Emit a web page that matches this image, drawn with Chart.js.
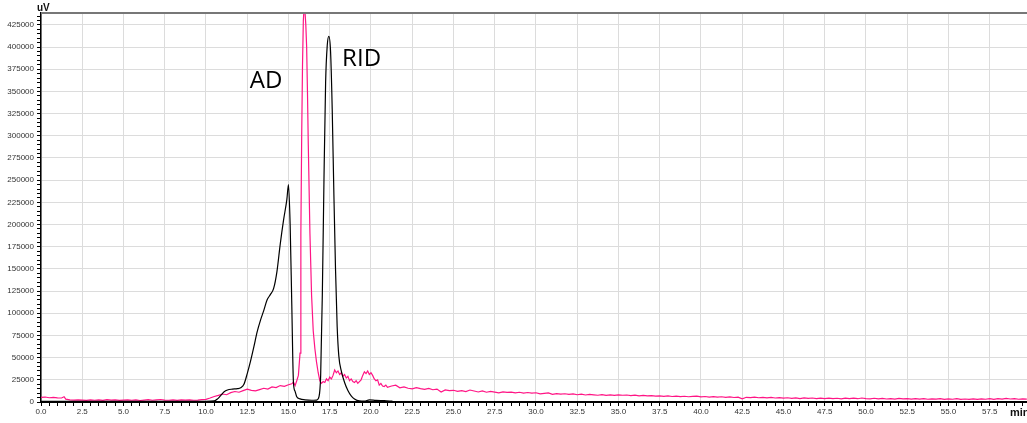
<!DOCTYPE html>
<html>
<head>
  <title>Chromatogram</title>
  <style>
    body { margin: 0; padding: 0; background: #fff; }
    .chart-box { width: 1027px; height: 423px; position: relative; }
  </style>
</head>
<body>

<div class="chart-box">
  <canvas id="chrom"></canvas>
</div>

<script src="https://cdn.jsdelivr.net/npm/chart.js"></script>
<script>
// black trace (minutes / uV)
const blackTime = [0, 2, 4, 6, 8, 10, 10.5, 10.7, 10.9, 11.1, 11.3, 11.6, 11.9, 12.1, 12.3, 12.5, 12.7, 12.9,
  13.1, 13.3, 13.5, 13.7, 13.9, 14.1, 14.3, 14.5, 14.7, 14.9, 15.0, 15.1, 15.2, 15.3, 15.4, 15.5, 15.7,
  16.0, 16.4, 16.7, 16.85, 16.95, 17.05, 17.15, 17.25, 17.35, 17.45, 17.55, 17.65, 17.75, 17.85, 17.95,
  18.05, 18.2, 18.4, 18.6, 18.8, 19.0, 19.3, 19.6, 19.9, 20.3, 20.8, 21.3];
const blackUv = [800, 700, 800, 700, 800, 800, 1200, 3500, 7500, 11500, 13500, 14500, 15000, 16000, 20000, 32000, 46000, 62000,
  79000, 92000, 103000, 115000, 121000, 128000, 147000, 178000, 205000, 228000, 245000, 200000, 110000, 22000, 12000, 6000, 3500,
  2500, 2000, 2200, 6000, 30000, 120000, 250000, 360000, 402000, 412000, 395000, 330000, 235000, 150000, 85000,
  52000, 35000, 22000, 13000, 7000, 3500, 1200, 900, 2500, 1800, 1500, 900];

// pink trace (minutes / uV)
const pinkTime = [0, 0.25, 0.5, 0.75, 1.0, 1.25, 1.4, 1.5, 1.75, 2.0, 2.25, 2.5, 2.75, 3.0, 3.25, 3.5, 3.75,
  4.0, 4.25, 4.5, 4.75, 5.0, 5.25, 5.5, 5.75, 6.0, 6.25, 6.5, 6.75, 7.0, 7.25, 7.5, 7.75, 8.0, 8.25, 8.5, 8.75,
  9.0, 9.25, 9.5, 9.75, 10.0, 10.25, 10.5, 10.75, 11.0, 11.25, 11.5, 11.75, 12.0, 12.25, 12.5, 12.75,
  13.0, 13.25, 13.5, 13.75, 14.0, 14.25, 14.5, 14.75, 15.0, 15.2, 15.3, 15.4, 15.5, 15.6, 15.7, 15.75,
  15.8, 15.85, 15.9, 15.95, 16.0, 16.05, 16.1, 16.15, 16.2, 16.3, 16.4, 16.5, 16.6, 16.7, 16.8, 16.9,
  17.0, 17.1, 17.2, 17.3, 17.4, 17.5, 17.6, 17.7, 17.8, 17.9, 18.0, 18.1, 18.2, 18.3, 18.4, 18.5, 18.6,
  18.7, 18.8, 18.9, 19.0, 19.1, 19.2, 19.3, 19.4, 19.5, 19.6, 19.7, 19.8, 19.9, 20.0, 20.1, 20.2, 20.3,
  20.4, 20.5, 20.6, 20.7, 20.8, 20.9,
  21.0, 21.25, 21.5, 21.75, 22.0, 22.25, 22.5, 22.75, 23.0, 23.25, 23.5, 23.75, 24.0, 24.25, 24.5, 24.75,
  25.0, 25.25, 25.5, 25.75, 26.0, 26.25, 26.5, 26.75, 27.0, 27.25, 27.5, 27.75, 28.0, 28.25, 28.5, 28.75,
  29.0, 29.25, 29.5, 29.75, 30.0, 30.25, 30.5, 30.75, 31.0, 31.25, 31.5, 31.75, 32.0, 32.25, 32.5, 32.75,
  33.0, 33.25, 33.5, 33.75, 34.0, 34.25, 34.5, 34.75, 35.0, 35.25, 35.5, 35.75, 36.0, 36.25, 36.5, 36.75,
  37.0, 37.25, 37.5, 37.75, 38.0, 38.25, 38.5, 38.75, 39.0, 39.25, 39.5, 39.75, 40.0, 40.25, 40.5, 40.75,
  41.0, 41.25, 41.5, 41.75, 42.0, 42.25, 42.5, 42.75, 43.0, 43.25, 43.5, 43.75, 44.0, 44.25, 44.5, 44.75,
  45.0, 45.25, 45.5, 45.75, 46.0, 46.25, 46.5, 46.75, 47.0, 47.25, 47.5, 47.75, 48.0, 48.25, 48.5, 48.75,
  49.0, 49.25, 49.5, 49.75, 50.0, 50.25, 50.5, 50.75, 51.0, 51.25, 51.5, 51.75, 52.0, 52.25, 52.5, 52.75,
  53.0, 53.25, 53.5, 53.75, 54.0, 54.25, 54.5, 54.75, 55.0, 55.25, 55.5, 55.75, 56.0, 56.25, 56.5, 56.75,
  57.0, 57.25, 57.5, 57.75, 58.0, 58.25, 58.5, 58.75, 59.0, 59.25, 59.5, 59.75];
const pinkUv = [5200, 5600, 4800, 5300, 4700, 4500, 5900, 3200, 2300, 2100, 2500, 2200, 1900, 2400, 2000, 2300, 1800,
  2600, 2100, 2400, 1900, 2200, 2500, 2000, 2300, 1700, 2100, 2600, 2000, 2400, 2800, 2200, 2000, 2500, 1900, 2300, 2100,
  2400, 2000, 2200, 2600, 3000, 4500, 6200, 7500, 9000, 8200, 10500, 11800, 11000, 12800, 14500, 13200,
  12500, 14000, 15500, 14600, 17000, 16200, 18500, 17600, 19500, 20500, 22500, 18500, 24000, 30000, 55000, 190000,
  300000, 380000, 430000, 446000, 440000, 425000, 400000, 350000, 290000, 190000, 120000, 80000, 60000, 45000, 33000, 24000,
  21000, 23000, 22000, 26000, 24000, 28000, 26000, 30000, 36000, 33000, 35000, 31000, 33000, 29000, 31000, 27000, 29000,
  24000, 26000, 23000, 22000, 24000, 21000, 23000, 25000, 30000, 34000, 32000, 35000, 31000, 33000, 30000, 26000, 24000,
  25000, 19000, 21000, 18000, 17500, 19000,
  16500, 18000, 19000, 16000, 17000, 15500, 14800, 16200, 15000, 14200, 15300, 13800, 14500, 11200, 13600, 12800,
  13200, 12000, 12900, 11800, 13500, 12400, 11300, 12600, 11000, 11900, 11200, 10400, 11500, 10800, 11200, 10300,
  11000, 10100, 10700, 9900, 10400, 9200, 9800, 10200, 8600, 9500, 8900, 9300, 8500, 9100, 8200, 8800,
  7900, 8600, 8100, 7600, 8300, 7500, 8000, 7400, 8100, 7600, 7900, 7100, 7700, 7000, 7500, 6800,
  7200, 6600, 7000, 6400, 6900, 6200, 6700, 6100, 6500, 5900, 6300, 6600, 5800, 6200, 5600, 6000,
  5400, 5900, 5300, 5700, 5100, 5500, 3600, 5300, 4900, 5400, 4800, 5200, 4600, 5100, 4500, 4900,
  4400, 4800, 4200, 4700, 3900, 4600, 4000, 4500, 3800, 4400, 3900, 4300, 3700, 4200, 3600, 4300,
  3800, 4400, 3700, 4500, 3900, 3600, 4200, 3500, 4000, 3400, 3900, 3300, 4100, 3500, 3800, 3200,
  3700, 3300, 3900, 3100, 3600, 3200, 3800, 3000, 3500, 3100, 3700, 3000, 3400, 3000, 3600, 2900,
  3500, 3100, 3700, 3000, 3800, 3200, 4000, 3400, 3900, 3100, 3600, 3300];

// peak names, placed at (minutes, uV) of their text baseline-left
const peakNames = ['AD', 'RID'];
const peakNameTime = [12.65, 18.25];
const peakNameUv = [354000, 379000];

const xMax = 59.76;
const yMax = 438400;
const yStep = 5000;
const yLabelStep = 25000;

function isMajor(v, step) {
  const r = v / step;
  return Math.abs(r - Math.round(r)) < 1e-6;
}

const chromDecor = {
  id: 'chromDecor',
  afterDraw(chart) {
    const ctx = chart.ctx;
    const area = chart.chartArea;
    const xs = chart.scales.x;
    const ys = chart.scales.y;
    ctx.save();
    // top frame line
    ctx.strokeStyle = '#777';
    ctx.lineWidth = 2;
    ctx.beginPath();
    ctx.moveTo(area.left, area.top);
    ctx.lineTo(chart.width, area.top);
    ctx.stroke();
    // axis units
    ctx.fillStyle = '#111';
    ctx.font = 'bold 10px "Liberation Sans", Arial, sans-serif';
    ctx.textBaseline = 'alphabetic';
    ctx.textAlign = 'left';
    ctx.fillText('uV', 37, 11);
    ctx.font = 'bold 11px "Liberation Sans", Arial, sans-serif';
    ctx.fillText('min', 1010, 416);
    // peak names
    ctx.font = '24px "Open Sans", "Noto Sans", sans-serif';
    ctx.fillStyle = '#000';
    peakNames.forEach((name, i) => {
      ctx.fillText(name, xs.getPixelForValue(peakNameTime[i]), ys.getPixelForValue(peakNameUv[i]));
    });
    ctx.restore();
  }
};

const ctx = document.getElementById('chrom').getContext('2d');
new Chart(ctx, {
  type: 'line',
  data: {
    datasets: [
      {
        label: 'RID',
        data: blackTime.map((t, i) => ({ x: t, y: blackUv[i] })),
        borderColor: '#000',
        borderWidth: 1.2,
        pointRadius: 0,
        cubicInterpolationMode: 'monotone',
        fill: false
      },
      {
        label: 'AD',
        data: pinkTime.map((t, i) => ({ x: t, y: pinkUv[i] })),
        borderColor: '#ff1585',
        borderWidth: 1.2,
        pointRadius: 0,
        tension: 0,
        fill: false
      }
    ]
  },
  options: {
    responsive: true,
    maintainAspectRatio: false,
    animation: false,
    layout: { padding: { top: 13, right: 0, left: 0, bottom: 0 } },
    plugins: { legend: { display: false }, tooltip: { enabled: false } },
    scales: {
      x: {
        type: 'linear',
        min: 0,
        max: xMax,
        afterFit: scale => { scale.height = 21; },
        border: { display: true, color: '#000', width: 2 },
        grid: {
          color: c => (c.tick && isMajor(c.tick.value, 2.5)) ? '#dcdcdc' : 'rgba(0,0,0,0)',
          tickColor: '#000',
          tickLength: 4,
          lineWidth: 1
        },
        ticks: {
          stepSize: 0.5,
          includeBounds: false,
          autoSkip: false,
          maxRotation: 0,
          minRotation: 0,
          padding: 1,
          color: '#333',
          font: { family: '"Liberation Sans", Arial, sans-serif', size: 8 },
          callback: v => isMajor(v, 2.5) ? v.toFixed(1) : ''
        }
      },
      y: {
        min: 0,
        max: yMax,
        afterFit: scale => { scale.width = 41; },
        // chart.js stretches the step when max is not a whole number of steps, so set the ticks here
        afterBuildTicks: scale => {
          const t = [];
          for (let v = 0; v <= yMax; v += yStep) t.push({ value: v });
          scale.ticks = t;
        },
        border: { display: true, color: '#000', width: 1.5 },
        grid: {
          color: c => (c.tick && isMajor(c.tick.value, yLabelStep)) ? '#dcdcdc' : 'rgba(0,0,0,0)',
          tickColor: '#000',
          tickLength: 4,
          lineWidth: 1
        },
        ticks: {
          autoSkip: false,
          padding: 3,
          color: '#333',
          font: { family: '"Liberation Sans", Arial, sans-serif', size: 8 },
          callback: v => isMajor(v, yLabelStep) ? String(v) : ''
        }
      }
    }
  },
  plugins: [chromDecor]
});
</script>

</body>
</html>
